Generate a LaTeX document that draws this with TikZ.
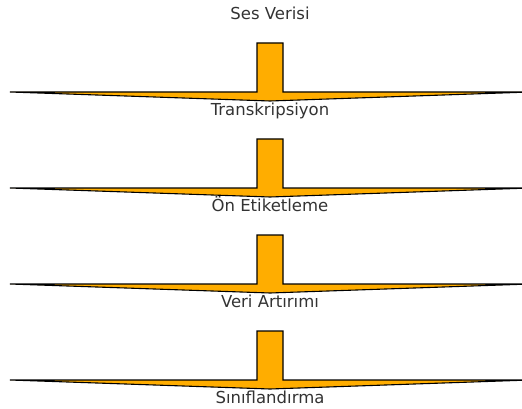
\documentclass[tikz,border=0pt]{standalone}
\usepackage{fontspec}
\setmainfont{DejaVu Sans}
\definecolor{arrowfill}{HTML}{FFAD00}
\definecolor{txt}{HTML}{333333}
\tikzset{
  lbl/.style={anchor=base, inner sep=0pt, text=txt, font=\fontsize{16.5}{18}\selectfont},
  bigarrow/.style={draw=black, fill=arrowfill, line width=1.1pt, line join=miter}
}
\begin{document}
\begin{tikzpicture}[x=1pt,y=-1pt]
\useasboundingbox (0,0) rectangle (522,409);
\node[lbl] (t0) at (270,20) {Ses Verisi};
\node[lbl] (t1) at (270,115.5) {Transkripsiyon};
\node[lbl] (t2) at (270,211.5) {Ön Etiketleme};
\node[lbl] (t3) at (270,307.5) {Veri Artırımı};
\node[lbl] (t4) at (270,403.5) {Sınıflandırma};
\foreach \k in {0,1,2,3}{
  \begin{scope}[yshift={-96*\k}]
    \draw[bigarrow] (257,43) -- (283,43) -- (283,92) -- (530,92) -- (270,101)
      -- (10,92) -- (257,92) -- cycle;
  \end{scope}
}
\end{tikzpicture}
\end{document}
